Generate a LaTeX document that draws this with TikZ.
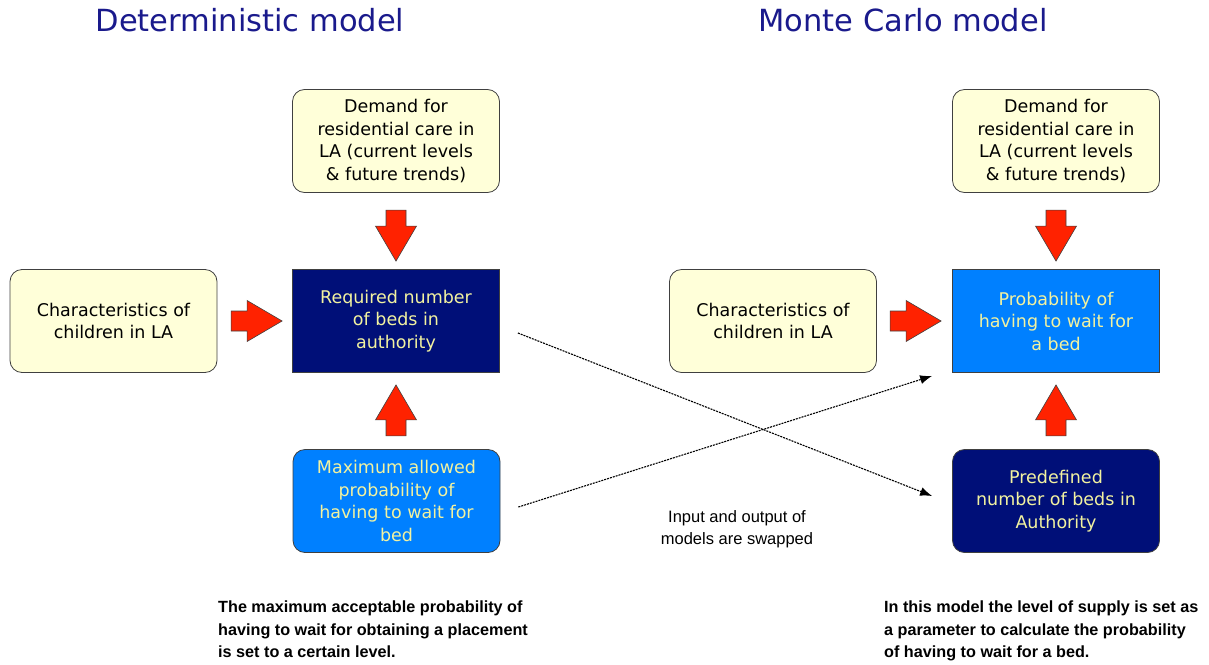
\documentclass[tikz,border=0pt]{standalone}
\usepackage{fontspec}
\setmainfont{DejaVu Sans}
\newfontfamily\arialschrift{Liberation Sans}
\usetikzlibrary{arrows.meta}

\definecolor{kasten}{HTML}{FFFFD9}
\definecolor{marine}{HTML}{000F78}
\definecolor{hellblau}{HTML}{0080FF}
\definecolor{schrift}{HTML}{F2F2A0}
\definecolor{rot}{HTML}{FF2200}
\definecolor{titel}{HTML}{1A1A8C}
\definecolor{rand}{HTML}{404040}

\tikzset{
    kasten/.style={draw=rand, line width=0.8pt, minimum width=207pt, minimum height=103pt,
        inner sep=0pt, align=center, font=\fontsize{17.5}{22.5}\selectfont},
    eingabe/.style={kasten, fill=kasten, rounded corners=12pt},
    ergebnis/.style={kasten, fill=marine, text=schrift},
    wahrscheinlich/.style={kasten, fill=hellblau, text=schrift},
    rotpfeil/.style={fill=rot, draw=black!75, line width=0.6pt, line join=miter},
    tauschpfeil/.style={dash pattern=on 2pt off 1pt, line width=1.1pt, -{Latex[length=12pt, width=9pt]}},
    ueberschrift/.style={text=titel, font=\fontsize{30.5}{34}\selectfont},
    hinweis/.style={anchor=north west, align=left, inner sep=0pt, font=\arialschrift\bfseries\fontsize{16.2}{22.5}\selectfont}
}

\begin{document}
\begin{tikzpicture}[x=1pt, y=-1pt]

        \useasboundingbox (0,0) rectangle (1209,664);

        % Ueberschriften
        \node [ueberschrift] (deterministisch) at (250,20) {Deterministic model};
        \node [ueberschrift] (montecarlo) at (903,20) {Monte Carlo model};

        % linkes Modell
        \node [eingabe] (nachfragelinks) at (396,141) {Demand for\\residential care in\\LA (current levels\\\& future trends)};
        \node [eingabe] (kinderlinks) at (113.5,321) {Characteristics of\\children in LA};
        \node [ergebnis] (betten) at (396,321) {Required number\\of beds in\\authority};
        \node [wahrscheinlich, rounded corners=12pt] (maximum) at (396.5,501) {Maximum allowed\\probability of\\having to wait for\\bed};

        % rechtes Modell
        \node [eingabe] (nachfragerechts) at (1056,141) {Demand for\\residential care in\\LA (current levels\\\& future trends)};
        \node [eingabe] (kinderrechts) at (773,321) {Characteristics of\\children in LA};
        \node [wahrscheinlich] (wartezeit) at (1056,321) {Probability of\\having to wait for\\a bed};
        \node [ergebnis, rounded corners=12pt] (vorgabe) at (1056,501) {Predefined\\number of beds in\\Authority};

        % Spitzen der roten Pfeile
        \coordinate (spitzea) at ([xshift=-10pt]betten.west);
        \coordinate (spitzeb) at ([yshift=8pt]betten.north);
        \coordinate (spitzec) at ([yshift=-12pt]betten.south);
        \coordinate (spitzed) at ([xshift=-11pt]wartezeit.west);
        \coordinate (spitzee) at ([yshift=8pt]wartezeit.north);
        \coordinate (spitzef) at ([yshift=-12pt]wartezeit.south);

        % rote Blockpfeile
        \foreach \spitze/\winkel in {spitzea/0, spitzeb/-90, spitzec/90, spitzed/0, spitzee/-90, spitzef/90}
            \draw [rotpfeil, shift={(\spitze)}, rotate=\winkel] (0,0) -- (-35,20.5) -- (-35,10) -- (-51,10) -- (-51,-10) -- (-35,-10) -- (-35,-20.5) -- cycle;

        % vertauschte Ein- und Ausgaben
        \draw [tauschpfeil] ([xshift=18pt, yshift=-12pt]betten.east) -- ([xshift=-20pt, yshift=5pt]vorgabe.west);
        \draw [tauschpfeil] ([xshift=18pt, yshift=-6pt]maximum.east) -- ([xshift=-20pt, yshift=-3pt]wartezeit.south west);
        \node [align=center, font=\arialschrift\fontsize{16.5}{22}\selectfont] (tausch) at (737,529) {Input and output of\\models are swapped};

        % Erlaeuterungen
        \node [hinweis] (erklaerunglinks) at (218,601) {The maximum acceptable probability of\\having to wait for obtaining a placement\\is set to a certain level.};
        \node [hinweis] (erklaerungrechts) at (884,601) {In this model the level of supply is set as\\a parameter to calculate the probability\\of having to wait for a bed.};

\end{tikzpicture}
\end{document}
